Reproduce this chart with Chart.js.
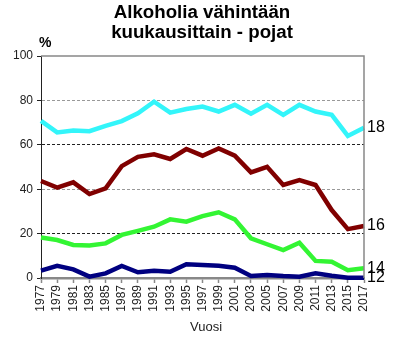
<!DOCTYPE html>
<html>
<head>
<meta charset="utf-8">
<script src="https://cdn.jsdelivr.net/npm/chart.js@4"></script>
<style>
  html, body { margin: 0; padding: 0; background: #fff; }
  canvas { display: block; }
</style>
</head>
<body>
<canvas id="chart" width="395" height="338"></canvas>
<script>
const years = ['1977','1979','1981','1983','1985','1987','1989','1991','1993','1995','1997',
  '1999','2001','2003','2005','2007','2009','2011','2013','2015','2017'];
const age18 = [70.8, 65.6, 66.4, 66.1, 68.5, 70.7, 74.2, 79.4, 74.5, 76.1, 77.2,
  75.0, 78.0, 74.0, 78.0, 73.5, 78.0, 75.0, 73.5, 64.0, 67.7];
const age16 = [43.7, 40.7, 43.1, 37.8, 40.4, 50.4, 54.6, 55.7, 53.6, 58.1, 55.1,
  58.4, 55.1, 47.6, 50.1, 41.9, 44.1, 41.9, 30.6, 22.0, 23.4];
const age14 = [18.2, 17.1, 14.9, 14.6, 15.6, 19.4, 21.2, 23.1, 26.4, 25.4, 27.9,
  29.6, 26.4, 17.9, 15.2, 12.6, 15.9, 7.7, 7.3, 3.5, 4.4];
const age12 = [3.3, 5.5, 3.9, 0.6, 2.1, 5.4, 2.6, 3.3, 2.8, 6.2, 5.9,
  5.5, 4.6, 0.9, 1.4, 0.9, 0.6, 2.1, 1.0, 0.1, 0.1];
const seriesNames = ['18', '16', '14', '12'];
const seriesColors = ['#33f5fa', '#800000', '#33f533', '#000080'];
const yTicks = [0, 20, 40, 60, 80, 100];

const font = 'Liberation Sans, Arial, sans-serif';

// titles, % sign, end labels and plot frame
const extras = {
  id: 'extras',
  afterDraw(chart) {
    const c = chart.ctx;
    const a = chart.chartArea;
    c.save();
    c.strokeStyle = '#888';
    c.lineWidth = 1.5;
    c.beginPath();
    c.moveTo(a.left, a.top);
    c.lineTo(a.right, a.top);
    c.lineTo(a.right, a.bottom);
    c.stroke();

    c.fillStyle = '#000';
    c.textAlign = 'center';
    c.textBaseline = 'alphabetic';
    c.font = 'bold 18.7px ' + font;
    c.fillText('Alkoholia vähintään', 202, 18);
    c.fillText('kuukausittain - pojat', 202, 38);

    c.textAlign = 'left';
    c.font = 'bold 14px ' + font;
    c.fillText('%', 39, 47);

    c.textAlign = 'center';
    c.font = '13px ' + font;
    c.fillStyle = '#222';
    c.fillText('Vuosi', 206, 331);

    c.textAlign = 'left';
    c.textBaseline = 'middle';
    c.font = '16px ' + font;
    c.fillStyle = '#000';
    chart.data.datasets.forEach((ds, i) => {
      const pts = chart.getDatasetMeta(i).data;
      const last = pts[pts.length - 1];
      c.fillText(ds.label, a.right + 3, last.y);
    });
    c.restore();
  }
};

new Chart(document.getElementById('chart'), {
  type: 'line',
  data: {
    labels: years,
    datasets: [age18, age16, age14, age12].map((d, i) => ({
      label: seriesNames[i],
      data: d,
      borderColor: seriesColors[i],
      backgroundColor: seriesColors[i],
      borderWidth: 4.5,
      pointRadius: 0,
      tension: 0,
      clip: false
    }))
  },
  options: {
    responsive: false,
    animation: false,
    layout: { padding: { top: 56, right: 31, left: 0, bottom: 0 } },
    plugins: {
      legend: { display: false },
      title: { display: false },
      tooltip: { enabled: false }
    },
    scales: {
      x: {
        offset: false,
        afterFit(scale) { scale.height = 60; },
        grid: { drawOnChartArea: false, drawTicks: true, tickLength: 5, tickColor: '#888', tickWidth: 1.5 },
        border: { color: '#888', width: 2.5 },
        ticks: {
          autoSkip: false,
          maxRotation: 90,
          minRotation: 90,
          padding: 2,
          color: '#222',
          font: { family: font, size: 12 }
        }
      },
      y: {
        min: 0,
        max: 100,
        afterFit(scale) { scale.width = 41; },
        afterBuildTicks(scale) { scale.ticks = yTicks.map(v => ({ value: v })); },
        grid: {
          color(ctx) {
            const v = ctx.tick && ctx.tick.value;
            if (v === 20 || v === 60) return '#222';
            if (v === 40 || v === 80) return '#999';
            return 'rgba(0,0,0,0)';
          },
          lineWidth: 1,
          tickLength: 4,
          tickColor: '#222'
        },
        border: { color: '#222', width: 1, dash: [3, 2] },
        ticks: {
          padding: 4,
          color: '#222',
          font: { family: font, size: 12 }
        }
      }
    }
  },
  plugins: [extras]
});
</script>
</body>
</html>
